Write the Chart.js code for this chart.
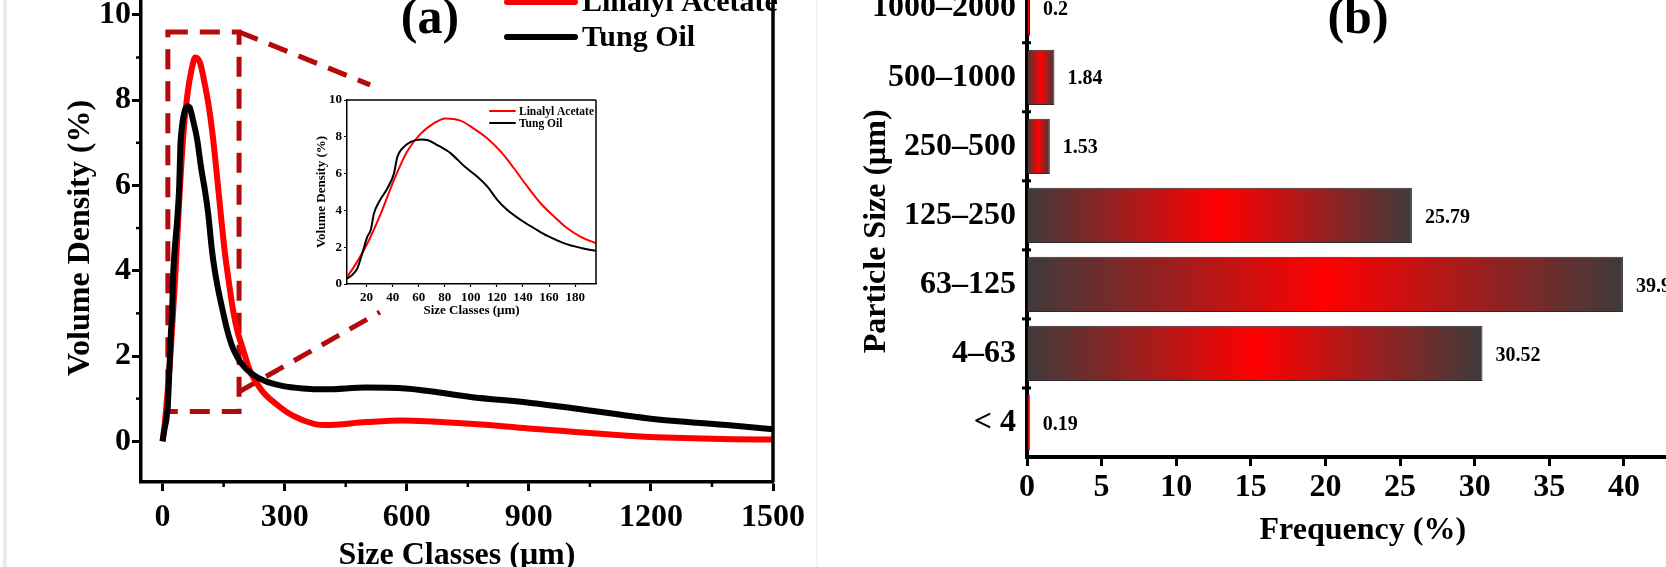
<!DOCTYPE html>
<html>
<head>
<meta charset="utf-8">
<script src="https://cdn.jsdelivr.net/npm/chart.js@4.4.0/dist/chart.umd.min.js"></script>
<style>
  html, body { margin: 0; padding: 0; background: #fff; }
  body { width: 1666px; height: 567px; overflow: hidden; position: relative; }
  canvas { position: absolute; }
  #distA { left: 0; top: -30px; }
  #inset { left: 270px; top: 80px; }
  #freqB { left: 800px; top: -60px; }
  .strip { position: absolute; top: 0; height: 567px; }
</style>
</head>
<body>
<div class="strip" style="left:3px;width:4px;background:#ebebeb"></div>
<div class="strip" style="left:816px;width:2px;background:#f3f3f3"></div>
<canvas id="distA" width="840" height="612"></canvas>
<canvas id="inset" width="340" height="244"></canvas>
<canvas id="freqB" width="940" height="617"></canvas>
<script>
Chart.defaults.font.family = "'Liberation Serif', 'Times New Roman', serif";
Chart.defaults.font.weight = 'bold';
Chart.defaults.color = '#000';

// (a) volume density (%) against size class (µm)
const linalylSize = [0, 5.2, 20, 31, 41, 51, 61, 71.5, 80.5, 92, 102, 112.5, 123, 133, 143, 153.5, 164, 174, 184, 196,
  215, 243, 282, 320, 372, 400, 500, 590, 757, 900, 1014, 1100, 1200, 1300, 1400, 1500];
const linalylDensity = [0, 0.4, 2.12, 3.84, 5.65, 7.19, 8.13, 8.73, 9.0, 8.88, 8.46, 7.92, 7.19, 6.29, 5.33, 4.39, 3.66, 3.03, 2.58, 2.21,
  1.65, 1.2, 0.85, 0.6, 0.41, 0.38, 0.45, 0.49, 0.41, 0.3, 0.22, 0.16, 0.1, 0.07, 0.05, 0.04];
const tungSize = [0, 5.2, 9, 12.9, 16.7, 20.6, 23.2, 25.7, 29.6, 36, 41, 43.7, 47.5, 53.9, 61.5, 66.6, 74.3, 84.6, 94.8, 105,
  112.7, 120.4, 128, 138.3, 148.6, 158.8, 171.7, 184.5, 196, 217, 250, 294, 345, 400, 500, 597, 757, 905, 1014, 1200, 1400, 1500];
const tungDensity = [0, 0.31, 0.49, 0.85, 1.66, 2.57, 2.93, 3.84, 4.47, 5.2, 6.01, 6.92, 7.37, 7.73, 7.86, 7.83, 7.55, 7.1, 6.41, 5.83,
  5.29, 4.56, 4.02, 3.48, 3.03, 2.61, 2.21, 1.96, 1.8, 1.6, 1.42, 1.3, 1.24, 1.22, 1.26, 1.24, 1.04, 0.9, 0.77, 0.53, 0.37, 0.28];

const sizeTicks = [0, 300, 600, 900, 1200, 1500];
const sizeMinor = [150, 450, 750, 1050, 1350];
const densityTicks = [0, 2, 4, 6, 8, 10];
const densityMinor = [1, 3, 5, 7, 9];
const insetSizeTicks = [20, 40, 60, 80, 100, 120, 140, 160, 180];

// zoom box drawn on (a), in data units
const zoomBoxSize = [13, 188];
const zoomBoxDensity = [0.7, 9.6];
const connectorTop = [[188, 9.6], [510, 8.36]];
const connectorBottom = [[186, 1.15], [534, 3.03]];

// (b) frequency (%) by particle size class, top to bottom
const sizeBins = ['1000–2000', '500–1000', '250–500', '125–250', '63–125', '4–63', '< 4'];
const frequency = [0.2, 1.84, 1.53, 25.79, 39.93, 30.52, 0.19];
const binEdges = [0.5, 1.5, 2.5, 3.5, 4.5, 5.5];

const pts = (xs, ys) => xs.map((x, i) => ({ x: x, y: ys[i] }));
const fixTicks = vals => s => { s.ticks = vals.map(v => ({ value: v })); };
const plain = v => String(v);
const serif = (size) => ({ family: Chart.defaults.font.family, size: size, weight: 'bold' });

function minorTicks(items) {
  return {
    id: 'minorTicks',
    afterDraw(chart) {
      const ctx = chart.ctx;
      items.forEach(it => {
        const s = chart.scales[it.axis];
        ctx.save();
        ctx.strokeStyle = '#000';
        ctx.lineWidth = it.width;
        it.values.forEach(v => {
          const p = s.getPixelForValue(v);
          ctx.beginPath();
          if (s.isHorizontal()) {
            ctx.moveTo(p, s.top - (it.inner || 0));
            ctx.lineTo(p, s.top + it.outer);
          } else {
            ctx.moveTo(s.right + (it.inner || 0), p);
            ctx.lineTo(s.right - it.outer, p);
          }
          ctx.stroke();
        });
        ctx.restore();
      });
    }
  };
}

function frame(sides, width) {
  return {
    id: 'frame',
    afterDraw(chart) {
      const { ctx, chartArea: a } = chart;
      ctx.save();
      ctx.strokeStyle = '#000';
      ctx.lineWidth = width;
      ctx.beginPath();
      if (sides.includes('top')) { ctx.moveTo(a.left, a.top); ctx.lineTo(a.right, a.top); }
      if (sides.includes('right')) { ctx.moveTo(a.right, a.top); ctx.lineTo(a.right, a.bottom); }
      ctx.stroke();
      ctx.restore();
    }
  };
}

function lineLegend(o) {
  return {
    id: 'lineLegend',
    afterDraw(chart) {
      const ctx = chart.ctx;
      ctx.save();
      ctx.font = 'bold ' + o.size + 'px ' + Chart.defaults.font.family;
      ctx.textBaseline = 'middle';
      ctx.fillStyle = '#000';
      chart.data.datasets.forEach((ds, i) => {
        const y = o.y + i * o.row;
        ctx.strokeStyle = ds.borderColor;
        ctx.lineWidth = o.lw;
        ctx.lineCap = 'round';
        ctx.beginPath();
        ctx.moveTo(o.x, y);
        ctx.lineTo(o.x + o.len, y);
        ctx.stroke();
        ctx.fillText(ds.label, o.x + o.len + o.gap, y + 1);
      });
      ctx.restore();
    }
  };
}

function panelTag(text, x, y) {
  return {
    id: 'panelTag',
    afterDraw(chart) {
      const ctx = chart.ctx;
      ctx.save();
      ctx.font = 'bold 50px ' + Chart.defaults.font.family;
      ctx.textAlign = 'center';
      ctx.textBaseline = 'alphabetic';
      ctx.fillStyle = '#000';
      ctx.fillText(text, x, y);
      ctx.restore();
    }
  };
}

const zoomBox = {
  id: 'zoomBox',
  beforeDatasetsDraw(chart) {
    const { ctx, scales: { x, y } } = chart;
    const px = v => x.getPixelForValue(v), py = v => y.getPixelForValue(v);
    ctx.save();
    ctx.strokeStyle = '#b40a0a';
    ctx.lineWidth = 5;
    ctx.setLineDash([20, 12]);
    ctx.strokeRect(px(zoomBoxSize[0]), py(zoomBoxDensity[1]),
      px(zoomBoxSize[1]) - px(zoomBoxSize[0]), py(zoomBoxDensity[0]) - py(zoomBoxDensity[1]));
    [connectorTop, connectorBottom].forEach(c => {
      ctx.beginPath();
      ctx.moveTo(px(c[0][0]), py(c[0][1]));
      ctx.lineTo(px(c[1][0]), py(c[1][1]));
      ctx.stroke();
    });
    ctx.restore();
  }
};

const curveSets = (w) => [
  { label: 'Linalyl Acetate', data: pts(linalylSize, linalylDensity), borderColor: '#ff0000', borderWidth: w, order: 1 },
  { label: 'Tung Oil', data: pts(tungSize, tungDensity), borderColor: '#000000', borderWidth: w, order: 0 }
];

// ---- panel (a)
new Chart(document.getElementById('distA'), {
  type: 'line',
  data: { datasets: curveSets(6) },
  options: {
    responsive: false,
    animation: false,
    cubicInterpolationMode: 'monotone',
    elements: { point: { radius: 0 } },
    layout: { padding: { top: 24, right: 67, left: 0, bottom: 0 } },
    plugins: { legend: { display: false }, tooltip: { enabled: false } },
    scales: {
      x: {
        type: 'linear', min: -53, max: 1500,
        afterBuildTicks: fixTicks(sizeTicks),
        afterFit: s => { s.height = 100; },
        ticks: { font: serif(32), padding: 8, callback: plain },
        grid: { drawOnChartArea: false, tickLength: 9, tickWidth: 3, tickColor: '#000' },
        border: { width: 3.5, color: '#000' },
        title: { display: true, text: 'Size Classes (μm)', font: serif(32), padding: { top: 0, bottom: 7.5 } }
      },
      y: {
        min: -0.955, max: 10.49,
        afterBuildTicks: fixTicks(densityTicks),
        afterFit: s => { s.width = 141; },
        ticks: { font: serif(32), padding: 1, callback: plain },
        grid: { drawOnChartArea: false, tickLength: 9, tickWidth: 3, tickColor: '#000' },
        border: { width: 3.5, color: '#000' },
        title: { display: true, text: 'Volume Density (%)', font: serif(32), padding: { top: 62, bottom: 0 } }
      }
    }
  },
  plugins: [
    zoomBox,
    frame(['right'], 3.5),
    minorTicks([
      { axis: 'x', values: sizeMinor, outer: 5, width: 2.5 },
      { axis: 'y', values: densityMinor, outer: 5, width: 2.5 }
    ]),
    lineLegend({ x: 507, y: 32, row: 35, len: 68, gap: 7, size: 30, lw: 6 }),
    panelTag('(a)', 430, 63)
  ]
});

// ---- inset of (a)
new Chart(document.getElementById('inset'), {
  type: 'line',
  data: { datasets: curveSets(2) },
  options: {
    responsive: false,
    animation: false,
    cubicInterpolationMode: 'monotone',
    elements: { point: { radius: 0 } },
    layout: { padding: { top: 20, right: 14, left: 0, bottom: 0 } },
    plugins: { legend: { display: false }, tooltip: { enabled: false } },
    scales: {
      x: {
        type: 'linear', min: 5, max: 196,
        afterBuildTicks: fixTicks(insetSizeTicks),
        afterFit: s => { s.height = 40; },
        ticks: { font: serif(13), padding: 3, callback: plain },
        grid: { drawOnChartArea: false, tickLength: 3, tickWidth: 1.2, tickColor: '#000' },
        border: { width: 1.5, color: '#000' },
        title: { display: true, text: 'Size Classes (μm)', font: serif(13), padding: { top: 0, bottom: 6 } }
      },
      y: {
        min: 0, max: 10,
        afterBuildTicks: fixTicks(densityTicks),
        afterFit: s => { s.width = 77; },
        ticks: { font: serif(13), padding: 2, callback: plain },
        grid: { drawOnChartArea: false, tickLength: 3, tickWidth: 1.2, tickColor: '#000' },
        border: { width: 1.5, color: '#000' },
        title: { display: true, text: 'Volume Density (%)', font: serif(13), padding: { top: 44, bottom: 0 } }
      }
    }
  },
  plugins: [
    frame(['top', 'right'], 1.5),
    lineLegend({ x: 220, y: 31, row: 12, len: 25, gap: 4, size: 11.5, lw: 2 })
  ]
});

// ---- panel (b)
const barValues = {
  id: 'barValues',
  afterDatasetsDraw(chart) {
    const ctx = chart.ctx;
    const meta = chart.getDatasetMeta(0);
    ctx.save();
    ctx.font = 'bold 20px ' + Chart.defaults.font.family;
    ctx.textBaseline = 'middle';
    ctx.fillStyle = '#000';
    meta.data.forEach((bar, i) => {
      ctx.fillText(String(frequency[i]), bar.x + 13, bar.y + 2);
    });
    ctx.restore();
  }
};

new Chart(document.getElementById('freqB'), {
  type: 'bar',
  data: {
    labels: sizeBins,
    datasets: [{
      data: frequency,
      barPercentage: 0.8,
      categoryPercentage: 1,
      borderColor: '#2a2a2a',
      borderWidth: 1,
      backgroundColor(c) {
        const xs = c.chart.scales.x;
        if (c.type !== 'data' || !xs) return '#ff0000';
        const x0 = xs.getPixelForValue(0);
        const x1 = xs.getPixelForValue(c.raw);
        if (!isFinite(x0) || !isFinite(x1) || x1 - x0 < 1) return '#ff0000';
        const g = c.chart.ctx.createLinearGradient(x0, 0, x1, 0);
        g.addColorStop(0, '#3f3b3b');
        g.addColorStop(0.5, '#ff0000');
        g.addColorStop(1, '#3f3b3b');
        return g;
      }
    }]
  },
  options: {
    indexAxis: 'y',
    responsive: false,
    animation: false,
    layout: { padding: { top: 33.7, right: 41.4, left: 0, bottom: 0 } },
    plugins: { legend: { display: false }, tooltip: { enabled: false } },
    scales: {
      x: {
        min: 0, max: 45,
        ticks: { stepSize: 5, font: serif(32), padding: 3, callback: plain },
        afterFit: s => { s.height = 100; },
        grid: { drawOnChartArea: false, tickLength: 9, tickWidth: 3, tickColor: '#000' },
        border: { width: 4, color: '#000' },
        title: { display: true, text: 'Frequency (%)', font: serif(32), padding: { top: 0, bottom: 7.5 } }
      },
      y: {
        afterFit: s => { s.width = 227; },
        ticks: { font: serif(32), padding: 11 },
        grid: { display: false, drawTicks: false },
        border: { width: 4, color: '#000' },
        title: { display: true, text: 'Particle Size (μm)    ', font: serif(32), padding: { top: 58, bottom: 0 } }
      }
    }
  },
  plugins: [
    barValues,
    minorTicks([{ axis: 'y', values: binEdges, inner: 4, outer: 5, width: 3 }]),
    panelTag('(b)', 558, 93)
  ]
});
</script>
</body>
</html>
